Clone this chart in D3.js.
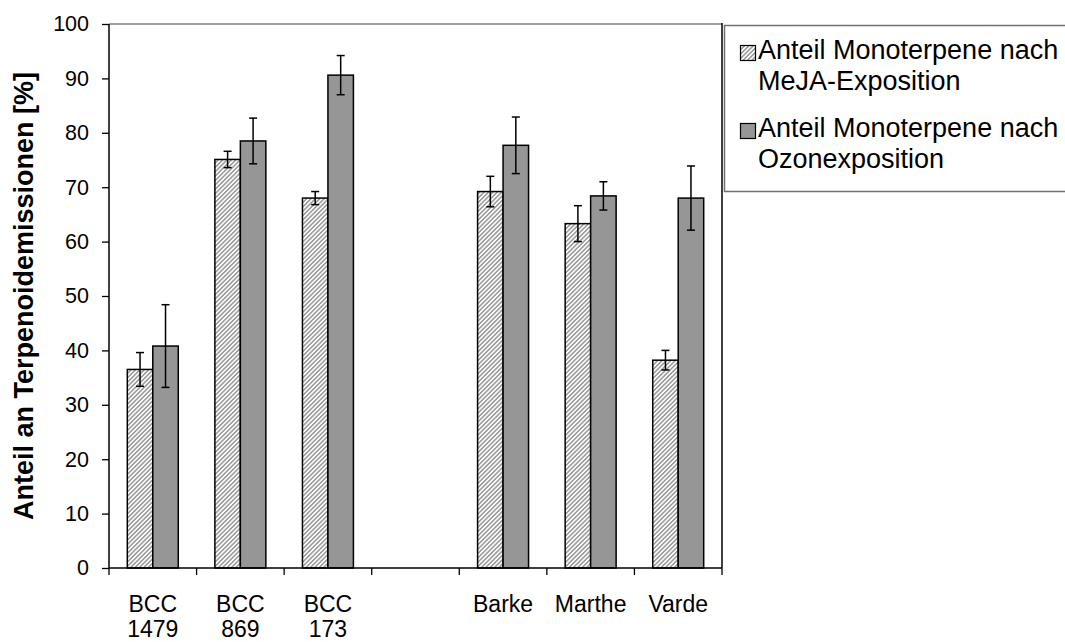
<!DOCTYPE html>
<html>
<head>
<meta charset="utf-8">
<script src="https://cdn.jsdelivr.net/npm/d3@7"></script>
<style>
  html, body { margin: 0; padding: 0; background: #fff; }
  svg { display: block; font-family: "Liberation Sans", Arial, sans-serif; }
</style>
</head>
<body>
<svg id="chart" width="1065" height="642"></svg>
<script>
// ---- Data ----
const categories = [["BCC", "1479"], ["BCC", "869"], ["BCC", "173"], [], ["Barke"], ["Marthe"], ["Varde"]];
const seriesNames = ["Anteil Monoterpene nach MeJA-Exposition", "Anteil Monoterpene nach Ozonexposition"];
const legendLines = [["Anteil Monoterpene nach", "MeJA-Exposition"], ["Anteil Monoterpene nach", "Ozonexposition"]];
const mejaValues = [36.5, 75.1, 68.0, null, 69.2, 63.3, 38.2];
const mejaErrors = [3.1, 1.5, 1.2, null, 2.8, 3.3, 1.8];
const ozonValues = [40.8, 78.5, 90.6, null, 77.7, 68.4, 68.0];
const ozonErrors = [7.6, 4.2, 3.6, null, 5.2, 2.6, 5.9];
const yTicks = [0, 10, 20, 30, 40, 50, 60, 70, 80, 90, 100];
const yTitle = "Anteil an Terpenoidemissionen [%]";

// ---- Layout ----
const svg = d3.select("#chart");
const pLeft = 109, pRight = 722, pTop = 24, pBottom = 568;

const x = d3.scaleBand().domain(d3.range(categories.length)).range([pLeft, pRight]).paddingInner(0).paddingOuter(0);
const groupW = x.bandwidth() * 0.582;
const x1 = d3.scaleBand().domain([0, 1]).range([0, groupW]).padding(0);
const y = d3.scaleLinear().domain([0, 100]).range([pBottom, pTop]);

// hatch pattern
const defs = svg.append("defs");
const pat = defs.append("pattern")
  .attr("id", "hatch").attr("patternUnits", "userSpaceOnUse")
  .attr("width", 3.1).attr("height", 10)
  .attr("patternTransform", "rotate(45)");
pat.append("rect").attr("width", 3.1).attr("height", 10).attr("fill", "#ffffff");
pat.append("line").attr("x1", 0.8).attr("y1", 0).attr("x2", 0.8).attr("y2", 10)
  .attr("stroke", "#9c9c9c").attr("stroke-width", 1.6);

const fills = ["url(#hatch)", "#969696"];
const series = [
  { vals: mejaValues, errs: mejaErrors },
  { vals: ozonValues, errs: ozonErrors }
];

// plot border (top grey, right black)
svg.append("line").attr("x1", pLeft).attr("x2", pRight).attr("y1", pTop).attr("y2", pTop)
  .attr("stroke", "#808080").attr("stroke-width", 1.5);
svg.append("line").attr("x1", pRight).attr("x2", pRight).attr("y1", pTop - 1).attr("y2", pBottom)
  .attr("stroke", "#000").attr("stroke-width", 1.5);

// bars
series.forEach((s, si) => {
  const data = s.vals.map((v, i) => ({ i, v, e: s.errs[i] })).filter(d => d.v != null);
  const gx = d => x(d.i) + (x.bandwidth() - groupW) / 2 + x1(si);
  svg.append("g").selectAll("rect").data(data).join("rect")
    .attr("x", gx)
    .attr("y", d => y(d.v))
    .attr("width", x1.bandwidth())
    .attr("height", d => y(0) - y(d.v))
    .attr("fill", fills[si])
    .attr("stroke", "#000").attr("stroke-width", 1.5);
  const eg = svg.append("g").attr("stroke", "#000").attr("stroke-width", 1.5);
  data.forEach(d => {
    const cx = gx(d) + x1.bandwidth() / 2;
    eg.append("line").attr("x1", cx).attr("x2", cx).attr("y1", y(d.v + d.e)).attr("y2", y(d.v - d.e));
    eg.append("line").attr("x1", cx - 4).attr("x2", cx + 4).attr("y1", y(d.v + d.e)).attr("y2", y(d.v + d.e));
    eg.append("line").attr("x1", cx - 4).attr("x2", cx + 4).attr("y1", y(d.v - d.e)).attr("y2", y(d.v - d.e));
  });
});

// y axis
const yAxis = d3.axisLeft(y).tickValues(yTicks).tickSize(7).tickPadding(13).tickFormat(d3.format("d"));
const gy = svg.append("g").attr("transform", `translate(${pLeft},0)`).call(yAxis);
gy.select(".domain").attr("stroke", "#000").attr("stroke-width", 1.5).attr("d", `M0,${pTop}V${pBottom}`);
gy.selectAll(".tick line").attr("stroke", "#000").attr("stroke-width", 1.3);
gy.selectAll(".tick text").attr("font-size", 21.5).attr("fill", "#000")
  .attr("font-family", "'Liberation Sans', Arial, sans-serif");

// x axis with ticks at band boundaries
const boundaries = d3.range(categories.length + 1).map(i => pLeft + i * x.bandwidth());
svg.append("line").attr("x1", pLeft).attr("x2", pRight).attr("y1", pBottom).attr("y2", pBottom)
  .attr("stroke", "#000").attr("stroke-width", 1.5);
svg.append("g").selectAll("line").data(boundaries).join("line")
  .attr("x1", d => d).attr("x2", d => d).attr("y1", pBottom).attr("y2", pBottom + 7)
  .attr("stroke", "#000").attr("stroke-width", 1.3);

// x labels
const xl = svg.append("g").attr("font-size", 23).attr("fill", "#000").attr("text-anchor", "middle");
categories.forEach((lines, i) => {
  lines.forEach((t, li) => {
    xl.append("text").attr("x", x(i) + x.bandwidth() / 2).attr("y", 611.5 + li * 25.5).text(t);
  });
});

// y title
svg.append("text")
  .attr("transform", `translate(33,${(pTop + pBottom) / 2}) rotate(-90)`)
  .attr("text-anchor", "middle").attr("font-size", 27).attr("font-weight", "bold")
  .attr("fill", "#000").text(yTitle);

// legend
const lg = svg.append("g");
lg.append("rect").attr("x", 724.5).attr("y", 25.5).attr("width", 400).attr("height", 166)
  .attr("fill", "#fff").attr("stroke", "#707070").attr("stroke-width", 1.5);
legendLines.forEach((lines, si) => {
  const oy = si * 78;
  lg.append("rect").attr("x", 740.5).attr("y", 45.5 + oy).attr("width", 15).attr("height", 15)
    .attr("fill", fills[si]).attr("stroke", "#000").attr("stroke-width", 1.2);
  lines.forEach((t, li) => {
    lg.append("text").attr("x", 758).attr("y", 58.5 + oy + li * 31.5)
      .attr("font-size", 27).attr("fill", "#000").text(t);
  });
});
</script>
</body>
</html>
